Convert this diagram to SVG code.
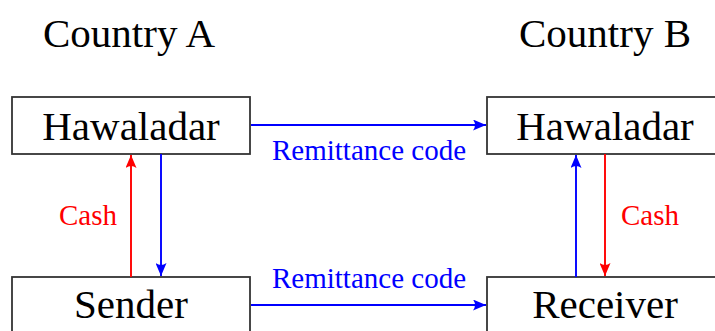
<svg xmlns="http://www.w3.org/2000/svg" width="715" height="331" viewBox="0 0 715 331">
<style>
text{font-family:"Liberation Serif","Times New Roman",serif}
.box{fill:#fff;stroke:#333;stroke-width:1.8}
.big{font-size:41px;fill:#000;text-anchor:middle}
.lbl{font-size:29px}
.blue{stroke:#0000ff;stroke-width:1.9;fill:none}
.red{stroke:#ff0000;stroke-width:1.9;fill:none}
</style>
<defs>
<marker id="ab" viewBox="0 0 13 11" refX="13" refY="5.5" markerWidth="13" markerHeight="11" markerUnits="userSpaceOnUse" orient="auto">
<path d="M0,0 L13,5.5 L0,11 Q4,5.5 0,0 Z" fill="#0000ff"/>
</marker>
<marker id="ar" viewBox="0 0 13 11" refX="13" refY="5.5" markerWidth="13" markerHeight="11" markerUnits="userSpaceOnUse" orient="auto">
<path d="M0,0 L13,5.5 L0,11 Q4,5.5 0,0 Z" fill="#ff0000"/>
</marker>
</defs>
<text class="big" x="129" y="47">Country A</text>
<text class="big" x="605" y="47">Country B</text>
<g id="hawaladarA">
<rect class="box" x="12" y="97" width="238" height="57"/>
<text class="big" x="131" y="140">Hawaladar</text>
</g>
<g id="hawaladarB">
<rect class="box" x="487" y="97" width="238" height="57"/>
<text class="big" x="605" y="140">Hawaladar</text>
</g>
<g id="sender">
<rect class="box" x="12" y="277" width="238" height="70"/>
<text class="big" x="131" y="318">Sender</text>
</g>
<g id="receiver">
<rect class="box" x="487" y="277" width="238" height="70"/>
<text class="big" x="605" y="318">Receiver</text>
</g>
<g id="connectors">
<line class="blue" x1="251" y1="125" x2="486" y2="125" marker-end="url(#ab)"/>
<text class="lbl" x="369" y="160" fill="#0000ff" text-anchor="middle">Remittance code</text>
<line class="blue" x1="251" y1="305" x2="486" y2="305" marker-end="url(#ab)"/>
<text class="lbl" x="369" y="288" fill="#0000ff" text-anchor="middle">Remittance code</text>
<line class="red" x1="131" y1="277" x2="131" y2="155" marker-end="url(#ar)"/>
<text class="lbl" x="117" y="225" fill="#ff0000" text-anchor="end">Cash</text>
<line class="blue" x1="161" y1="154" x2="161" y2="276" marker-end="url(#ab)"/>
<line class="blue" x1="576" y1="277" x2="576" y2="155" marker-end="url(#ab)"/>
<line class="red" x1="605" y1="154" x2="605" y2="276" marker-end="url(#ar)"/>
<text class="lbl" x="621" y="225" fill="#ff0000">Cash</text>
</g>
</svg>
